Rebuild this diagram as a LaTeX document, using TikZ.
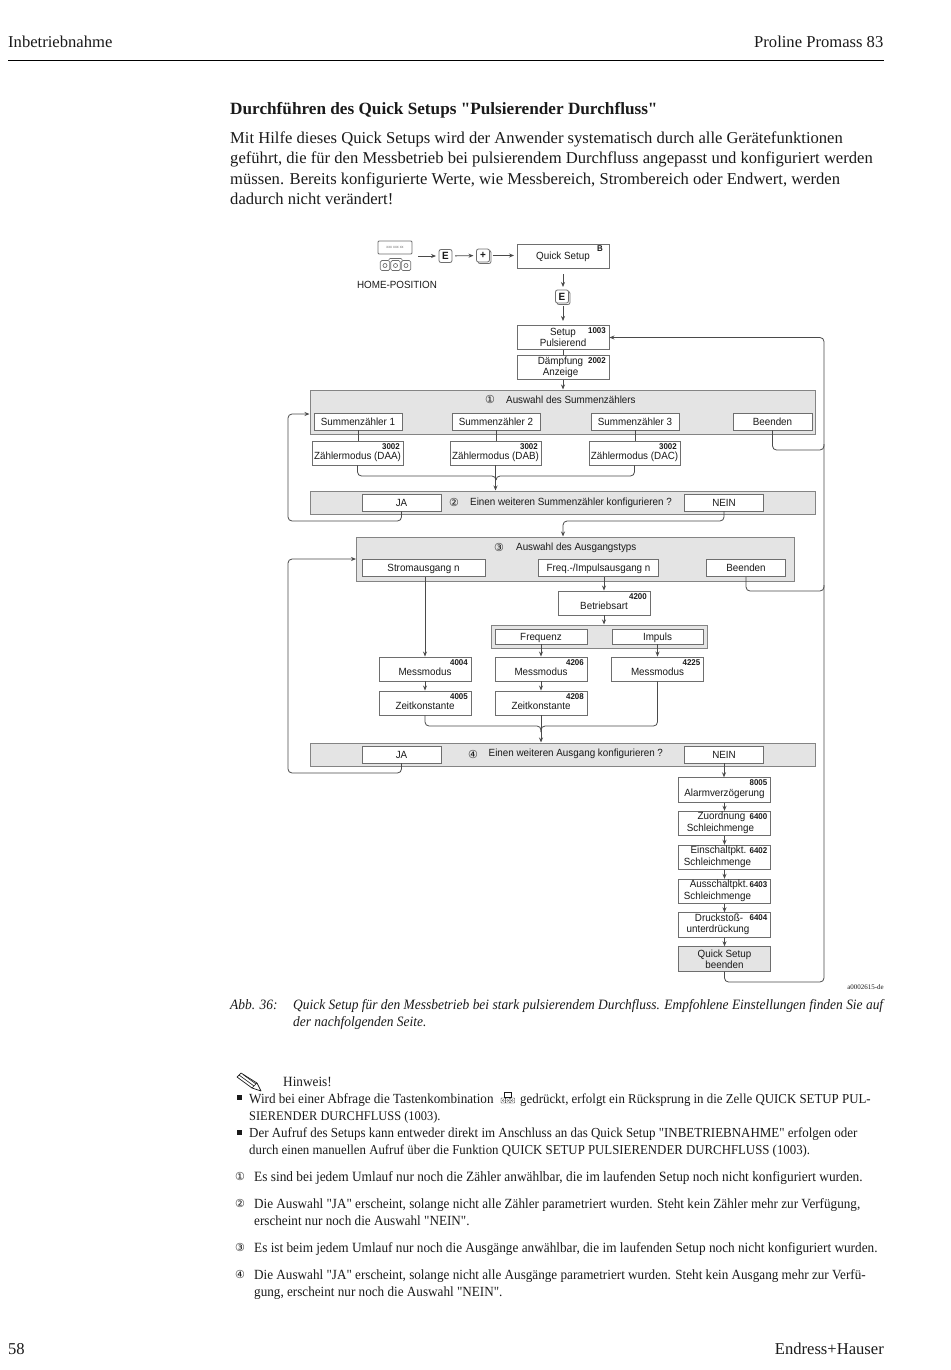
\documentclass[tikz,border=0pt]{standalone}
\usepackage{fontspec}
\setmainfont{Liberation Serif}[Ligatures=TeXOff]
\setsansfont{Liberation Sans}[FakeStretch=0.945]
\newfontfamily\notefont{Liberation Serif}[FakeStretch=0.94, Ligatures=TeXOff]
\newfontfamily\symfont{DejaVu Sans}
\usetikzlibrary{arrows.meta, shadows}
\definecolor{ink}{HTML}{1A1A1A}
\definecolor{wire}{HTML}{4A4A4A}
\definecolor{edge}{HTML}{6E6E6E}
\definecolor{shade}{HTML}{E4E4E4}

\begin{document}
\begin{tikzpicture}[
    x=1pt, y=-1pt,
    every node/.style={inner sep=0pt, text=ink},
    page/.style={anchor=mid #1, yshift=-3pt, font=\fontsize{16.6}{19}\selectfont},
    body/.style={page=west},
    note/.style={anchor=mid west, yshift=-3pt, font=\notefont\fontsize{#1}{17}\selectfont},
    note/.default=14.1,
    capt/.style={anchor=mid west, yshift=-3pt, font=\notefont\fontsize{14.3}{17}\selectfont\itshape},
    lab/.style={font=\sffamily\fontsize{10.4}{11.4}\selectfont, align=center},
    headline/.style={lab, anchor=mid west, yshift=-1.5pt},
    cell/.style={lab, rectangle, draw=edge, fill=white, line width=0.9pt, minimum width=92pt, minimum height=24pt},
    coded/.style={cell, text height=14pt, text depth=2pt},
    opt/.style={lab, rectangle, draw=edge, fill=white, line width=0.9pt, minimum height=17pt, text height=8pt, text depth=1pt},
    panel/.style={rectangle, draw=edge!85, fill=shade, line width=1pt},
    code/.style={font=\sffamily\bfseries\fontsize{8.4}{9}\selectfont, anchor=north east, xshift=-3.5pt, yshift=-2.5pt},
    digit/.style={font=\symfont\fontsize{11}{11}\selectfont},
    keycap/.style={rectangle, rounded corners=2pt, draw=edge, fill=white, line width=0.8pt, minimum width=13pt, minimum height=13pt, outer sep=3pt, font=\sffamily\bfseries\fontsize{10.5}{10}\selectfont},
    shadowcap/.style={keycap, copy shadow={shadow xshift=1.5pt, shadow yshift=-1.5pt, draw=edge, fill=white}},
    link/.style={draw=wire, line width=0.8pt, rounded corners=4pt},
    flow/.style={link, -{Stealth[length=5pt, width=4pt]}},
]
\useasboundingbox (0,0) rectangle (950,1370);

% page head
\node[page=west] (headL) at (8,42) {Inbetriebnahme};
\node[page=east] (headR) at (883.5,42) {Proline Promass 83};
\draw[black, line width=1pt] (8,60.5) -- (884,60.5);

\node[anchor=mid west, yshift=-3pt, font=\bfseries\fontsize{17.2}{20}\selectfont] (title) at (230,109) {Durchführen des Quick Setups "Pulsierender Durchfluss"};
\node[body] (introA) at (230,138) {Mit Hilfe dieses Quick Setups wird der Anwender systematisch durch alle Gerätefunktionen};
\node[body] (introB) at (230,158.5) {geführt, die für den Messbetrieb bei pulsierendem Durchfluss angepasst und konfiguriert werden};
\node[body] (introC) at (230,179) {müssen. Bereits konfigurierte Werte, wie Messbereich, Strombereich oder Endwert, werden};
\node[body] (introD) at (230,199.5) {dadurch nicht verändert!};

% ========================================== start of the setup
\node[rectangle, rounded corners=1pt, draw=edge, fill=white, line width=0.8pt, minimum width=34pt, minimum height=13pt, font=\sffamily\fontsize{4}{4}\selectfont, text=edge] (display) at (395,247.5) {xxx xxx xx};
\foreach \k/\x in {1/385,2/395.5,3/406}{
  \node[rectangle, rounded corners=1.5pt, draw=edge, line width=0.7pt, minimum width=9.5pt, minimum height=10pt] (homekey\k) at (\x,265.5) {};
  \draw[edge, line width=0.7pt] (\x,265.5) circle (2pt);}
\draw[edge, line width=0.6pt, rounded corners=1pt] (389,260) -- (389,258.5) -- (402,258.5) -- (402,260);
\node[lab] (home) at (397,285) {HOME-POSITION};
\coordinate (homeout) at (418,256);
\node[keycap] (keyE) at (445.5,256) {E};
\node[shadowcap] (keyP) at (483,255.5) {+};
\node[cell, minimum height=24.5pt] (quick) at (563,256.5) {Quick Setup};
\node[code, xshift=-3pt, yshift=1pt] (quickB) at (quick.north east) {B};
\node[shadowcap] (keyQ) at (562,296.5) {E};
\draw[flow] (homeout) -- (keyE);
\draw[flow] (keyE) -- (keyP);
\draw[flow] (keyP) -- ++(31,0);
\draw[flow, shorten <=5pt] (quick.south) -- (quick.south |- keyQ.north);
\draw[flow] (quick.south |- keyQ.south) -- ++(0,15);

\node[cell, minimum height=23.5pt, label={[code]north east:1003}] (setup) at (563,337.5) {Setup\\Pulsierend};
\node[cell, minimum height=24pt, label={[code]north east:2002}] (daempf) at (563,367.5) {\hspace*{-5pt}Dämpfung\\\hspace*{-5pt}Anzeige};
\draw[link] (setup) -- (daempf);

% ========================================== block 1: the totalizers
\node[panel, minimum width=505.5pt, minimum height=44pt] (panA) at (562.75,412) {};
\node[digit] (digitA) at (490,399.5) {①};
\node[headline] (headA) at (506,399.5) {Auswahl des Summenzählers};
\draw[flow] (daempf.south) -- (panA.north -| daempf.south);
\foreach \i/\x/\m/\xz in {1/358/DAA/357.5, 2/496/DAB/495.5, 3/635/DAC/634.5}{
  \node[opt, minimum width=88pt] (sum\i) at (\x,421.5) {Summenzähler \i};
  \node[coded, minimum width=91pt, label={[code]north east:3002}] (mode\i) at (\xz,453) {Zählermodus (\m)};
  \draw[link] (sum\i.south) -- (sum\i.south |- mode\i.north);}
\node[opt, minimum width=79pt] (endA) at (772.5,421.5) {Beenden};

\node[panel, minimum width=505.5pt, minimum height=23pt] (panB) at (562.75,502.5) {};
\node[opt, minimum width=79pt] (jaB) at (401.5,502.5) {JA};
\node[digit] (digitB) at (454,502.5) {②};
\node[headline] (headB) at (470,502) {Einen weiteren Summenzähler konfigurieren ?};
\node[opt, minimum width=79pt] (neinB) at (724,502.5) {NEIN};

\coordinate (mergeA) at (496,480);
\draw[flow] (mode2.south) -- (panB.north -| mode2.south);
\draw[link] (mode1.south) |- ([yshift=4pt]mergeA) -- (mergeA);
\draw[link] (mode3.south) |- ([yshift=4pt]mergeA) -- (mergeA);
\coordinate (loopA) at (288,521);
\draw[flow] (jaB.south) |- (loopA) |- ([yshift=-2pt]panA.west);

% ========================================== block 2: the outputs
\node[panel, minimum width=437.5pt, minimum height=44pt] (panC) at (575.25,559) {};
\node[digit] (digitC) at (499,547) {③};
\node[headline] (headC) at (516,547) {Auswahl des Ausgangstyps};
\node[opt, minimum width=123pt] (outI) at (423.5,568) {Stromausgang n};
\node[opt, minimum width=120pt] (outF) at (598.5,568) {Freq.-/Impulsausgang n};
\node[opt, minimum width=79pt] (endC) at (746,568) {Beenden};
\coordinate (turnB) at (563,521);
\draw[flow] (neinB.south) |- (turnB) -- (turnB |- panC.north);

\node[coded, label={[code]north east:4200}] (mode42) at (604,603) {Betriebsart};
\draw[flow] (outF.south -| mode42.north) -- (mode42.north);

\node[panel, minimum width=215.5pt, minimum height=23pt] (panF) at (599.25,636.5) {};
\node[opt, minimum width=92pt, minimum height=15pt] (freq) at (541,636.5) {Frequenz};
\node[opt, minimum width=91pt, minimum height=15pt] (puls) at (657.5,636.5) {Impuls};
\draw[flow] (mode42.south) -- (mode42.south |- panF.north);

\node[coded, label={[code]north east:4004}] (curA) at (425,669) {Messmodus};
\node[coded, label={[code]north east:4005}] (curB) at (425,703) {Zeitkonstante};
\node[coded, label={[code]north east:4206}] (frqA) at (541,669) {Messmodus};
\node[coded, label={[code]north east:4208}] (frqB) at (541,703) {Zeitkonstante};
\node[coded, label={[code]north east:4225}] (pulA) at (657.5,669) {Messmodus};
\draw[flow] (curA.north |- outI.south) -- (curA.north);
\draw[flow] (curA) -- (curB);
\draw[flow] (freq.south -| frqA.north) -- (frqA.north);
\draw[flow] (puls) -- (pulA);
\draw[flow] (frqA) -- (frqB);

\node[panel, minimum width=505.5pt, minimum height=23pt] (panD) at (562.75,754.5) {};
\node[opt, minimum width=79pt] (jaD) at (401.5,754.5) {JA};
\node[digit] (digitD) at (473,754.5) {④};
\node[headline] (headD) at (488.5,753) {Einen weiteren Ausgang konfigurieren ?};
\node[opt, minimum width=79pt] (neinD) at (724,754.5) {NEIN};

\coordinate (mergeB) at (541,732);
\draw[flow] (frqB.south) -- (frqB.south |- panD.north);
\draw[link] (curB.south) |- ([yshift=6pt]mergeB) -- (mergeB);
\draw[link] (pulA.south) |- ([yshift=6pt]mergeB) -- (mergeB);
\coordinate (loopB) at (288,773);
\draw[flow] (jaD.south) |- (loopB) |- (panC.west);

% ========================================== the closing functions
\foreach \n/\y/\xt/\yt/\txt in {
    a8005/790/724.5/793.5/Alarmverzögerung,
    a6400/823.5/720.5/823/{\hspace*{2pt}Zuordnung\\Schleichmenge},
    a6402/857.5/717.5/857/{\hspace*{2pt}Einschaltpkt.\\Schleichmenge},
    a6403/891.5/717.5/891/{\hspace*{3pt}Ausschaltpkt.\\Schleichmenge},
    a6404/925/718/924.5/{\hspace*{2pt}Druckstoß-\\unterdrückung}}{
  \node[cell, minimum height=24.5pt] (\n) at (724.5,\y) {};
  \node[lab] (t\n) at (\xt,\yt) {\txt};}
\node[code] (c8005) at (a8005.north east) {8005};
\node[code] (c6400) at (a6400.north east) {6400};
\node[code] (c6402) at (a6402.north east) {6402};
\node[code] (c6403) at (a6403.north east) {6403};
\node[code] (c6404) at (a6404.north east) {6404};
\node[cell, minimum height=24.5pt, fill=shade] (finish) at (724.5,959) {Quick Setup\\beenden};
\draw[flow] (neinD.south) -- (a8005.north -| neinD.south);
\draw[flow] (a8005) -- (a6400);
\draw[flow] (a6400) -- (a6402);
\draw[flow] (a6402) -- (a6403);
\draw[flow] (a6403) -- (a6404);
\draw[flow] (a6404) -- (finish);

% the return rail
\coordinate (railB) at (824,982);
\draw[flow] (finish.south) |- (railB) |- (setup.east);
\coordinate (railA) at (824,450);
\coordinate (railC) at (824,591);
\draw[link] (endA.south) |- (railA) -- ++(0,-6);
\draw[link] (endC.south) |- (railC) -- ++(0,-6);

\node[anchor=mid east, font=\fontsize{7}{8}\selectfont] (refno) at (884,987) {a0002615-de};

% ========================================== caption
\node[capt] (captA) at (230,1004) {Abb. 36:};
\node[capt] (captB) at (293,1004) {Quick Setup für den Messbetrieb bei stark pulsierendem Durchfluss. Empfohlene Einstellungen finden Sie auf};
\node[capt] (captC) at (293,1021) {der nachfolgenden Seite.};

% ========================================== the hints
\draw[ink, line width=0.7pt, fill=white, line join=round] (237,1077) -- (241,1073) -- (257,1083) -- (261,1091) -- (252,1088) -- cycle;
\draw[ink, line width=0.6pt] (239,1075) -- (254,1086) (252,1088) -- (257,1083) (243,1074.5) -- (256,1084);
\node[note] (hint) at (283,1081) {Hinweis!};

\fill[ink] (236.5,1095) rectangle (241.5,1100);
\fill[ink] (236.5,1129.5) rectangle (241.5,1134.5);
\node[note=13.95] (hintA) at (249,1098) {Wird bei einer Abfrage die Tastenkombination};
\foreach \x in {501,505.5,510}{
  \draw[ink, line width=0.4pt, rounded corners=0.5pt] (\x,1098) rectangle ++(4.5,5);
  \draw[ink, line width=0.3pt] (\x+2.25,1100.5) circle (1pt);}
\draw[ink, line width=0.4pt] (504,1092.5) rectangle (511.5,1097);
\node[note=13.7] (hintB) at (520,1098) {gedrückt, erfolgt ein Rücksprung in die Zelle QUICK SETUP PUL-};
\node[note=13.2] (hintC) at (249,1115) {SIERENDER DURCHFLUSS (1003).};
\node[note=13.8] (hintD) at (249,1132) {Der Aufruf des Setups kann entweder direkt im Anschluss an das Quick Setup "INBETRIEBNAHME" erfolgen oder};
\node[note=13.65] (hintE) at (249,1149) {durch einen manuellen Aufruf über die Funktion QUICK SETUP PULSIERENDER DURCHFLUSS (1003).};

\node[digit] (numA) at (240,1176) {①};
\node[note=14.2] (textA) at (254,1176) {Es sind bei jedem Umlauf nur noch die Zähler anwählbar, die im laufenden Setup noch nicht konfiguriert wurden.};
\node[digit] (numB) at (240,1203) {②};
\node[note=14] (textB) at (254,1203) {Die Auswahl "JA" erscheint, solange nicht alle Zähler parametriert wurden. Steht kein Zähler mehr zur Verfügung,};
\node[note=14] (textC) at (254,1220) {erscheint nur noch die Auswahl "NEIN".};
\node[digit] (numC) at (240,1247) {③};
\node[note] (textD) at (254,1247) {Es ist beim jedem Umlauf nur noch die Ausgänge anwählbar, die im laufenden Setup noch nicht konfiguriert wurden.};
\node[digit] (numD) at (240,1274) {④};
\node[note=14] (textE) at (254,1274) {Die Auswahl "JA" erscheint, solange nicht alle Ausgänge parametriert wurden. Steht kein Ausgang mehr zur Verfü-};
\node[note=14] (textF) at (254,1291) {gung, erscheint nur noch die Auswahl "NEIN".};

% page foot
\node[page=west] (pageno) at (8,1349) {58};
\node[page=east] (maker) at (884,1349) {Endress+Hauser};
\end{tikzpicture}
\end{document}
